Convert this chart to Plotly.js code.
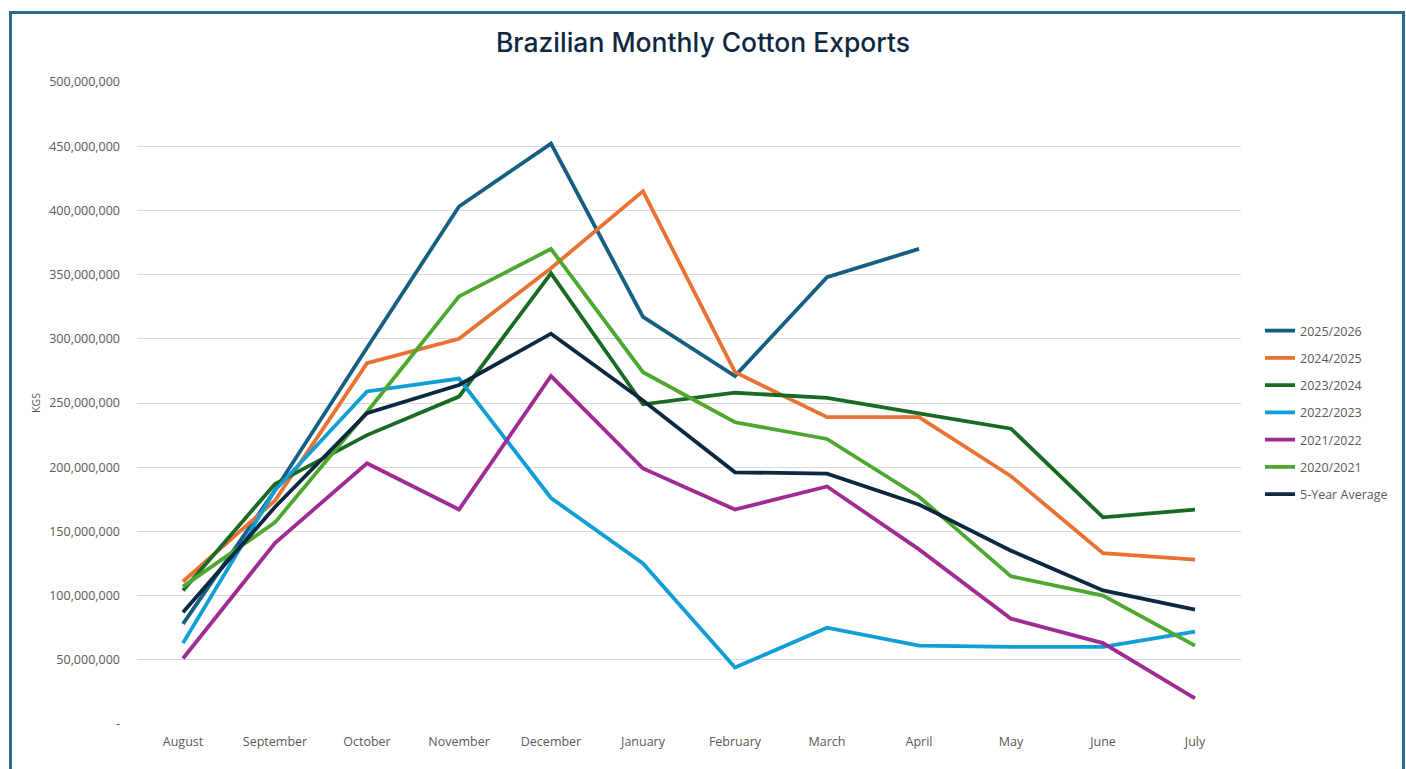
<!DOCTYPE html>
<html>
<head>
<meta charset="utf-8">
<script src="https://cdn.plot.ly/plotly-3.0.1.min.js"></script>
<style>
  html, body { margin: 0; padding: 0; background: #ffffff; overflow: hidden; }
  #chart { width: 1406px; height: 769px; position: absolute; left: 0; top: 0; }
  #frame { position: absolute; left: 9px; top: 11px; width: 1390px; height: 800px;
           border: 3px solid #2a6a8b; border-bottom: none; pointer-events: none; }
</style>
</head>
<body>
<div id="chart"></div>
<div id="frame"></div>
<script>
const months = ["August","September","October","November","December","January","February","March","April","May","June","July"];

const s2025_2026 = [78e6, 182e6, 293e6, 403e6, 452e6, 317e6, 271e6, 348e6, 370e6, null, null, null];
const s2024_2025 = [111e6, 174e6, 281e6, 300e6, 355e6, 415e6, 274e6, 239e6, 239e6, 193e6, 133e6, 128e6];
const s2023_2024 = [104e6, 187e6, 225e6, 255e6, 351e6, 249e6, 258e6, 254e6, 242e6, 230e6, 161e6, 167e6];
const s2022_2023 = [63e6, 182e6, 259e6, 269e6, 176e6, 125e6, 44e6, 75e6, 61e6, 60e6, 60e6, 72e6];
const s2021_2022 = [51e6, 141e6, 203e6, 167e6, 271e6, 199e6, 167e6, 185e6, 136e6, 82e6, 63e6, 20e6];
const s2020_2021 = [107e6, 157e6, 243e6, 333e6, 370e6, 274e6, 235e6, 222e6, 177e6, 115e6, 100e6, 61e6];
const s5YearAvg  = [87e6, 169e6, 242e6, 264e6, 304e6, 252e6, 196e6, 195e6, 171e6, 135e6, 104e6, 89e6];

const seriesNames = ["2025/2026","2024/2025","2023/2024","2022/2023","2021/2022","2020/2021","5-Year Average"];
const seriesValues = [s2025_2026, s2024_2025, s2023_2024, s2022_2023, s2021_2022, s2020_2021, s5YearAvg];
const seriesColors = ["#156082","#E97132","#196B24","#0F9ED5","#A02B93","#4EA72E","#0E2841"];

const yTickVals = [0, 50e6, 100e6, 150e6, 200e6, 250e6, 300e6, 350e6, 400e6, 450e6, 500e6];
const yTickText = ["-", "50,000,000", "100,000,000", "150,000,000", "200,000,000", "250,000,000", "300,000,000", "350,000,000", "400,000,000", "450,000,000", "500,000,000"];

const traces = seriesNames.map((name, i) => ({
  type: "scatter",
  mode: "lines",
  name: name,
  legendgroup: "g" + i,
  x: months,
  y: seriesValues[i],
  line: { color: seriesColors[i], width: 3.8 },
  connectgaps: false,
  hoverinfo: "x+y+name"
}));

const tickFont = { family: "Open Sans, sans-serif", size: 12.5, color: "#595959" };

const layout = {
  width: 1406,
  height: 769,
  margin: { l: 137, r: 165, t: 82, b: 45 },
  paper_bgcolor: "#ffffff",
  plot_bgcolor: "#ffffff",
  title: {
    text: "Brazilian Monthly Cotton Exports",
    font: { family: "Inter, Open Sans, sans-serif", size: 26.5, weight: 500, color: "#0E2841" },
    x: 0.5, xanchor: "center",
    xref: "container",
    y: 1 - 43 / 769, yanchor: "middle", yref: "container"
  },
  xaxis: {
    type: "category",
    categoryorder: "array",
    categoryarray: months,
    range: [-0.5, 11.5],
    showgrid: false,
    zeroline: false,
    showline: false,
    ticks: "",
    tickfont: tickFont,
    ticklabelstandoff: 8,
    fixedrange: true
  },
  yaxis: {
    range: [0, 500e6],
    tickmode: "array",
    tickvals: yTickVals,
    ticktext: yTickText,
    showgrid: true,
    gridcolor: "#d9d9d9",
    gridwidth: 1,
    zeroline: false,
    showline: false,
    ticks: "",
    tickfont: tickFont,
    ticklabelstandoff: 16,
    title: { text: "KGS", font: { family: "Open Sans, sans-serif", size: 10.5, color: "#595959" }, standoff: 6 },
    fixedrange: true
  },
  showlegend: true,
  legend: {
    x: (1260 - 137) / 1104,
    xanchor: "left",
    y: (724 - 316) / 642,
    yanchor: "top",
    traceorder: "grouped",
    tracegroupgap: 8,
    font: { family: "Open Sans, sans-serif", size: 12.5, color: "#595959" },
    bgcolor: "rgba(0,0,0,0)",
    borderwidth: 0
  }
};

Plotly.newPlot("chart", traces, layout, { displayModeBar: false, staticPlot: false });
</script>
</body>
</html>
